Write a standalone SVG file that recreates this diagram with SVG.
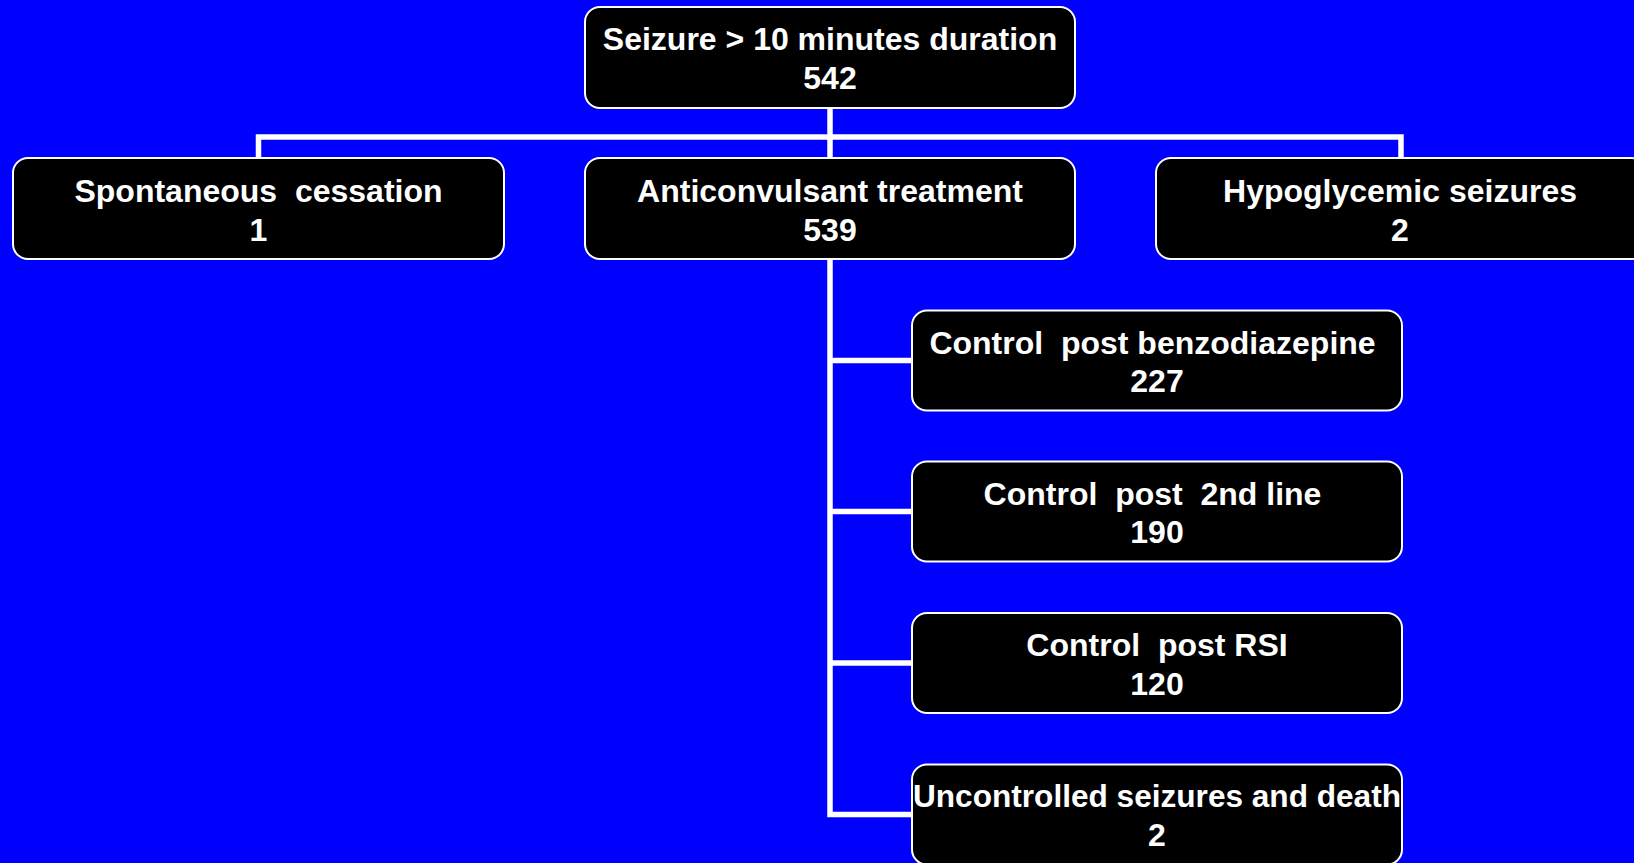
<svg xmlns="http://www.w3.org/2000/svg" width="1634" height="863" viewBox="0 0 1634 863">
<style>
.box{fill:#000;stroke:#fff;stroke-width:2}
.t{fill:#fff;font-family:"Liberation Sans",Arial,sans-serif;font-weight:bold;font-size:32px;text-anchor:middle}
.ln{fill:none;stroke:#fff;stroke-width:5.5}
</style>
<rect x="0" y="0" width="1634" height="863" fill="#0000ff"/>
<g id="connectors">
<line class="ln" x1="830" y1="108" x2="830" y2="259"/>
<polyline class="ln" points="258.5,158 258.5,137 1401,137 1401,158"/>
<polyline class="ln" points="830,259 830,814.5 912,814.5"/>
<line class="ln" x1="830" y1="360.5" x2="912" y2="360.5"/>
<line class="ln" x1="830" y1="511.5" x2="912" y2="511.5"/>
<line class="ln" x1="830" y1="663" x2="912" y2="663"/>
</g>
<g id="n_seizure">
<rect class="box" x="585" y="7" width="490" height="101" rx="15"/>
<text class="t" x="830" y="50">Seizure &gt; 10 minutes duration</text>
<text class="t" x="830" y="89">542</text>
</g>
<g id="n_spont">
<rect class="box" x="13" y="158" width="491" height="101" rx="15"/>
<text class="t" x="258.5" y="202" xml:space="preserve">Spontaneous  cessation</text>
<text class="t" x="258.5" y="241">1</text>
</g>
<g id="n_anticonv">
<rect class="box" x="585" y="158" width="490" height="101" rx="15"/>
<text class="t" x="830" y="202">Anticonvulsant treatment</text>
<text class="t" x="830" y="241">539</text>
</g>
<g id="n_hypo">
<rect class="box" x="1156" y="158" width="490" height="101" rx="15"/>
<text class="t" x="1400" y="202">Hypoglycemic seizures</text>
<text class="t" x="1400" y="241">2</text>
</g>
<g id="n_benzo">
<rect class="box" x="912" y="310.5" width="490" height="100" rx="15"/>
<text class="t" x="1152.5" y="353.5" xml:space="preserve">Control  post benzodiazepine</text>
<text class="t" x="1157" y="392">227</text>
</g>
<g id="n_second">
<rect class="box" x="912" y="461.5" width="490" height="100" rx="15"/>
<text class="t" x="1152.5" y="504.5" xml:space="preserve">Control  post  2nd line</text>
<text class="t" x="1157" y="543">190</text>
</g>
<g id="n_rsi">
<rect class="box" x="912" y="613" width="490" height="100" rx="15"/>
<text class="t" x="1157" y="656" xml:space="preserve">Control  post RSI</text>
<text class="t" x="1157" y="694.5">120</text>
</g>
<g id="n_unc">
<rect class="box" x="912" y="764.5" width="490" height="100" rx="15"/>
<text class="t" x="1157" y="807" textLength="488" lengthAdjust="spacingAndGlyphs">Uncontrolled seizures and death</text>
<text class="t" x="1157" y="845.5">2</text>
</g>
</svg>
